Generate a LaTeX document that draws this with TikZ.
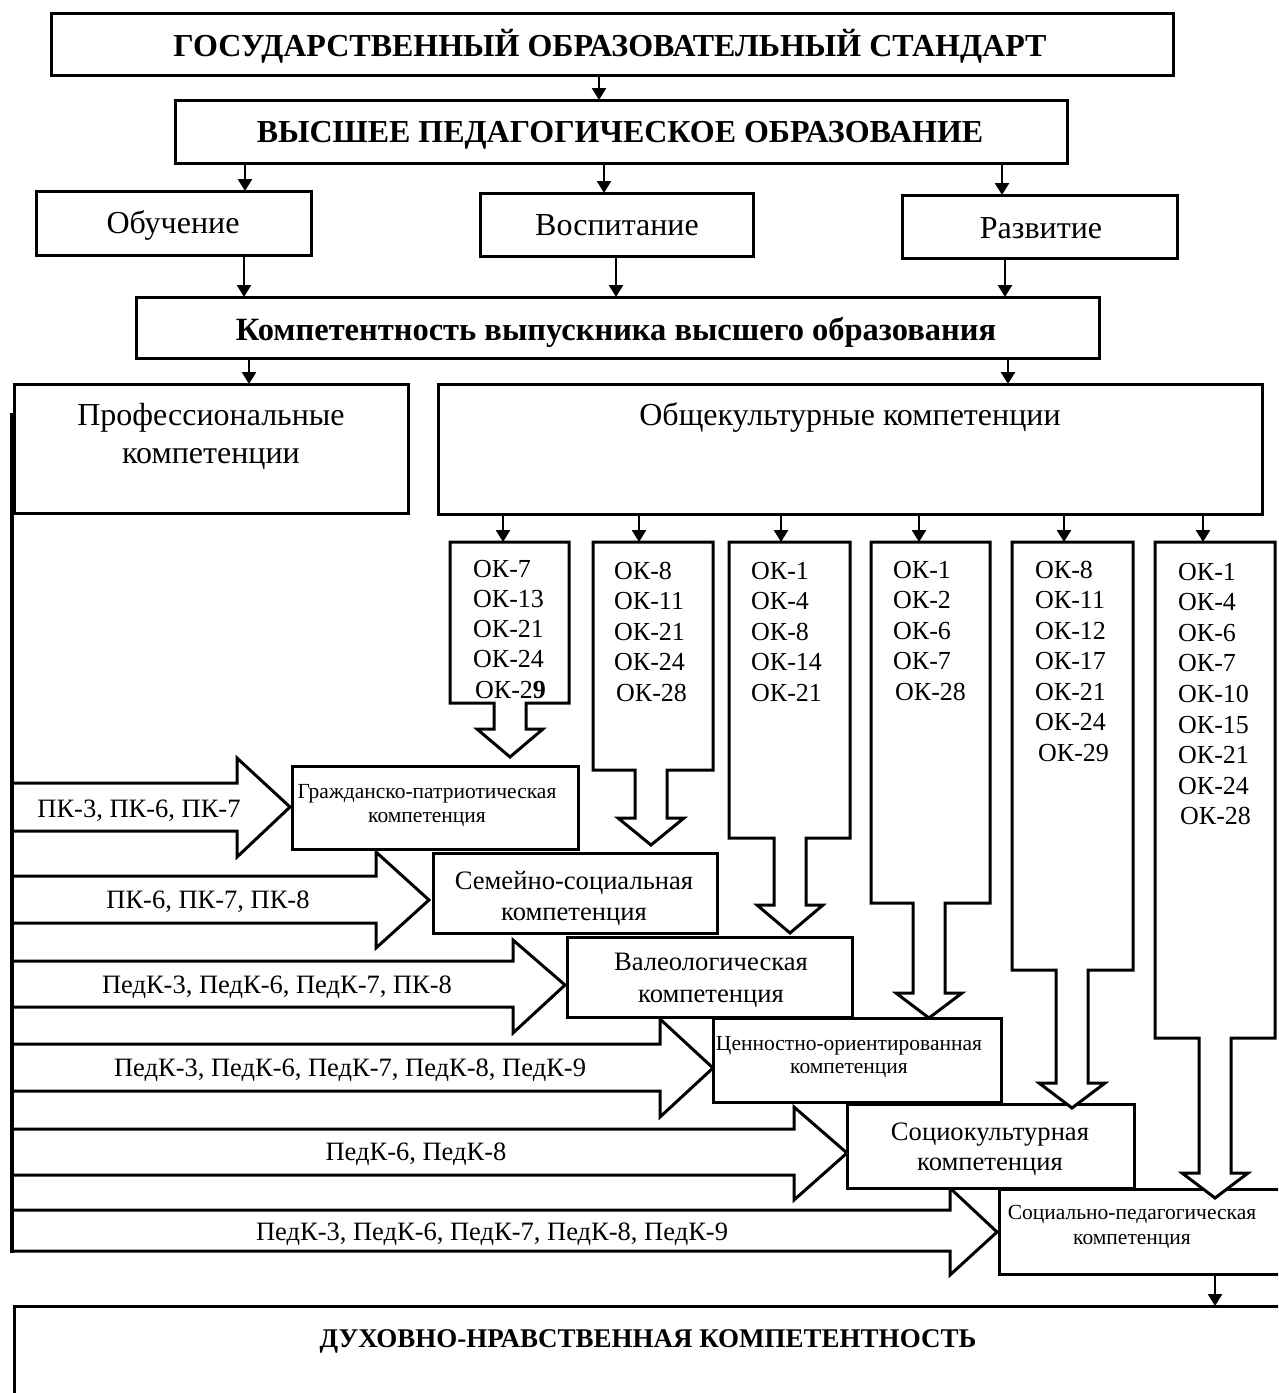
\documentclass[tikz,border=0pt]{standalone}
\usepackage{fontspec}
\setmainfont{Liberation Serif}
\usetikzlibrary{arrows.meta}
\newcommand\okcol[7]{% L R B W tip c name
  \draw[blk] (#1,542) -- (#2,542) -- (#2,#3) -- ({#6+16},#3) -- ({#6+16},#4) -- ({#6+33},#4)
    -- (#6,#5) -- ({#6-33},#4) -- ({#6-16},#4) -- ({#6-16},#3) -- (#1,#3) -- cycle;
  \coordinate (#7) at (#6,#5);}
\newcommand\rowarr[8]{% st sb hs ht hb tip ty name
  \draw[blk] (12,#1) -- (#3,#1) -- (#3,#4) -- (#6,#7) -- (#3,#5) -- (#3,#2) -- (12,#2) -- cycle;
  \coordinate (#8) at (#6,#7);}
\begin{document}
\begin{tikzpicture}[x=1pt,y=-1pt,
  bx/.style={draw, line width=3pt, fill=white, inner sep=0pt, outer sep=0pt, anchor=north west},
  blk/.style={draw, line width=3pt, fill=white, line join=miter, miter limit=20},
  conn/.style={line width=2.5pt, -{Triangle[length=12pt,width=14pt]}},
  tx/.style={inner sep=0pt, anchor=base},
  big/.style={tx, font=\fontsize{32}{38}\selectfont\bfseries},
  mid/.style={tx, font=\fontsize{32}{37}\selectfont},
  lab/.style={tx, font=\fontsize{26.5}{30}\selectfont},
  med/.style={tx, font=\fontsize{26.6}{31}\selectfont},
  ok/.style={inner sep=0pt, anchor=base west, font=\fontsize{26}{30}\selectfont},
  sml/.style={tx, font=\fontsize{21.5}{25}\selectfont},
]
\clip (0,0) rectangle (1278,1393);
\fill[white] (0,0) rectangle (1278,1393);

% main boxes
\node[bx, minimum width=1122pt, minimum height=62pt] (top) at (51,13) {};
\node[bx, minimum width=892pt, minimum height=63pt] (vpo) at (175,100) {};
\node[bx, minimum width=275pt, minimum height=64pt] (obu) at (36,191) {};
\node[bx, minimum width=273pt, minimum height=63pt] (vos) at (480,193) {};
\node[bx, minimum width=275pt, minimum height=63pt] (raz) at (902,195) {};
\node[bx, minimum width=963pt, minimum height=61pt] (comp) at (136,297) {};
\node[bx, minimum width=394pt, minimum height=129pt] (prof) at (14,384) {};
\node[bx, minimum width=824pt, minimum height=130pt] (obsh) at (438,384) {};

\node[big] (t1) at (610,56) {ГОСУДАРСТВЕННЫЙ ОБРАЗОВАТЕЛЬНЫЙ СТАНДАРТ};
\node[big] (t2) at (620,142) {ВЫСШЕЕ ПЕДАГОГИЧЕСКОЕ ОБРАЗОВАНИЕ};
\node[mid] (t3) at (173,233) {Обучение};
\node[mid] (t4) at (617,235) {Воспитание};
\node[mid] (t5) at (1041,238) {Развитие};
\node[big, font=\fontsize{32.5}{37}\selectfont\bfseries] (t6) at (616,340) {Компетентность выпускника высшего образования};
\node[mid] (t7) at (211,425) {Профессиональные};
\node[mid] (t8) at (211,463) {компетенции};
\node[mid] (t9) at (850,425) {Общекультурные компетенции};

% connectors
\draw[conn] (top.south -| 599,0) -- (vpo.north -| 599,0);
\draw[conn] (vpo.south -| 245,0) -- (obu.north -| 245,0);
\draw[conn] (vpo.south -| 604,0) -- (vos.north -| 604,0);
\draw[conn] (vpo.south -| 1002,0) -- (raz.north -| 1002,0);
\draw[conn] (obu.south -| 244,0) -- (comp.north -| 244,0);
\draw[conn] (vos.south -| 616,0) -- (comp.north -| 616,0);
\draw[conn] (raz.south -| 1005,0) -- (comp.north -| 1005,0);
\draw[conn] (comp.south -| 249,0) -- (prof.north -| 249,0);
\draw[conn] (comp.south -| 1008,0) -- (obsh.north -| 1008,0);
\foreach \x in {503,639,781,919,1064,1203}
  \draw[conn] (obsh.south -| \x,0) -- (\x,542);

% horizontal block arrows
\rowarr{783}{831}{237}{758}{857}{290}{807}{ra}
\rowarr{876}{923}{376}{852}{948}{429}{900}{rb}
\rowarr{961}{1007}{513}{940}{1033}{565}{985}{rc}
\rowarr{1044}{1091}{660}{1019}{1117}{713}{1068}{rd}
\rowarr{1129}{1175}{794}{1107}{1200}{847}{1153}{re}
\rowarr{1210}{1251}{950}{1188}{1275}{997}{1232}{rf}
\draw[line width=3.5pt] (12,413) -- (12,1253);

\node[lab] (l1) at (139,817) {ПК-3, ПК-6, ПК-7};
\node[lab] (l2) at (208,908) {ПК-6, ПК-7, ПК-8};
\node[lab] (l3) at (277,993) {ПедК-3, ПедК-6, ПедК-7, ПК-8};
\node[lab] (l4) at (350,1076) {ПедК-3, ПедК-6, ПедК-7, ПедК-8, ПедК-9};
\node[lab] (l5) at (416,1160) {ПедК-6, ПедК-8};
\node[lab] (l6) at (492,1240) {ПедК-3, ПедК-6, ПедК-7, ПедК-8, ПедК-9};

% staircase boxes
\node[bx, minimum width=286pt, minimum height=83pt] (grazh) at (292,766) {};
\node[bx, minimum width=284pt, minimum height=80pt] (sem) at (433,853) {};
\node[bx, minimum width=285pt, minimum height=80pt] (val) at (567,937) {};
\node[bx, minimum width=288pt, minimum height=84pt] (cen) at (713,1018) {};
\node[bx, minimum width=287pt, minimum height=84pt] (soc) at (847,1104) {};
\node[bx, minimum width=300pt, minimum height=85pt] (sped) at (999,1189) {};

% OK columns (down-arrow callouts)
\okcol{450}{569}{703}{729}{757}{510}{ka}
\okcol{593}{713}{770}{818}{845}{651}{kb}
\okcol{729}{850}{838}{905}{933}{790}{kc}
\okcol{871}{990}{903}{993}{1018}{929}{kd}
\okcol{1012}{1133}{970}{1083}{1108}{1072}{ke}
\okcol{1155}{1275}{1038}{1173}{1198}{1215}{kf}

\foreach \t [count=\i from 0] in {ОК-7,ОК-13,ОК-21,ОК-24,{\hspace{2pt}ОК-2\textbf{9}}}
  \node[ok] (oa\i) at (473,{577+30.3*\i}) {\t};
\foreach \t [count=\i from 0] in {ОК-8,ОК-11,ОК-21,ОК-24,{\hspace{2pt}ОК-28}}
  \node[ok] (ob\i) at (614,{579+30.5*\i}) {\t};
\foreach \t [count=\i from 0] in {ОК-1,ОК-4,ОК-8,ОК-14,ОК-21}
  \node[ok] (oc\i) at (751,{579+30.5*\i}) {\t};
\foreach \t [count=\i from 0] in {ОК-1,ОК-2,ОК-6,ОК-7,{\hspace{2pt}ОК-28}}
  \node[ok] (od\i) at (893,{578+30.5*\i}) {\t};
\foreach \t [count=\i from 0] in {ОК-8,ОК-11,ОК-12,ОК-17,ОК-21,ОК-24,{\hspace{3pt}ОК-29}}
  \node[ok] (oe\i) at (1035,{578+30.5*\i}) {\t};
\foreach \t [count=\i from 0] in {ОК-1,ОК-4,ОК-6,ОК-7,ОК-10,ОК-15,ОК-21,ОК-24,{\hspace{2pt}ОК-28}}
  \node[ok] (of\i) at (1178,{580+30.6*\i}) {\t};

% staircase texts
\node[sml] (g1) at (427,798) {Гражданско-патриотическая};
\node[sml] (g2) at (427,822) {компетенция};
\node[med] (s1) at (574,889) {Семейно-социальная};
\node[med] (s2) at (574,920) {компетенция};
\node[med] (v1) at (711,970) {Валеологическая};
\node[med] (v2) at (711,1002) {компетенция};
\node[sml] (c1) at (849,1050) {Ценностно-ориентированная};
\node[sml] (c2) at (849,1073) {компетенция};
\node[med] (k1) at (990,1140) {Социокультурная};
\node[med] (k2) at (990,1170) {компетенция};
\node[sml] (p1) at (1132,1219) {Социально-педагогическая};
\node[sml] (p2) at (1132,1244) {компетенция};

% final box
\node[bx, minimum width=1290pt, minimum height=120pt] (duh) at (14,1306) {};
\draw[conn] (sped.south -| 1215,0) -- (duh.north -| 1215,0);
\node[big, font=\fontsize{27}{32}\selectfont\bfseries] (t10) at (648,1347) {ДУХОВНО-НРАВСТВЕННАЯ КОМПЕТЕНТНОСТЬ};
\end{tikzpicture}
\end{document}
